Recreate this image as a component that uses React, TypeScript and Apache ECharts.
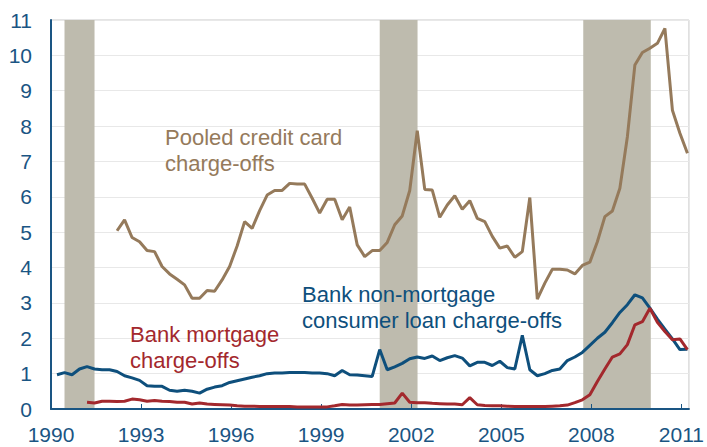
import React, { useEffect, useRef } from "react";
import * as echarts from "echarts";

// Quarterly series; index 0 = first quarter of 1990 (plotted at 1990.2)
const BASE_YEAR = 1990;
const FIRST_POINT = 0.2;
const STEP = 0.25;

const xTickYears = [1990, 1993, 1996, 1999, 2002, 2005, 2008, 2011];
const yTicks = [0, 1, 2, 3, 4, 5, 6, 7, 8, 9, 10, 11];

const nonMortgageStart = 0;
const nonMortgage = [
  0.97, 1.03, 0.97, 1.13, 1.2, 1.13, 1.11, 1.11, 1.06, 0.94,
  0.88, 0.81, 0.66, 0.64, 0.64, 0.53, 0.5, 0.53, 0.5, 0.45,
  0.56, 0.62, 0.66, 0.75, 0.8, 0.85, 0.9, 0.94, 1.0, 1.02,
  1.02, 1.03, 1.03, 1.03, 1.02, 1.02, 1.0, 0.94, 1.09, 0.97,
  0.96, 0.94, 0.92, 1.68, 1.11, 1.19, 1.29, 1.42, 1.47, 1.43,
  1.5, 1.37, 1.45, 1.51, 1.44, 1.22, 1.32, 1.32, 1.23, 1.35,
  1.17, 1.13, 2.08, 1.11, 0.94, 1.0, 1.09, 1.13, 1.37, 1.47,
  1.6, 1.8, 2.0, 2.17, 2.44, 2.73, 2.95, 3.23, 3.14, 2.85,
  2.54, 2.26, 1.98, 1.68, 1.69,
];

const mortgageStart = 4;
const mortgage = [
  0.19, 0.17, 0.22, 0.22, 0.21, 0.22, 0.28, 0.26, 0.22, 0.24,
  0.22, 0.21, 0.19, 0.19, 0.14, 0.17, 0.14, 0.13, 0.12, 0.11,
  0.09, 0.08, 0.08, 0.07, 0.07, 0.07, 0.07, 0.07, 0.06, 0.06,
  0.06, 0.06, 0.06, 0.09, 0.13, 0.11, 0.11, 0.12, 0.13, 0.13,
  0.15, 0.17, 0.45, 0.19, 0.18, 0.18, 0.16, 0.15, 0.14, 0.14,
  0.12, 0.32, 0.12, 0.1, 0.09, 0.09, 0.08, 0.07, 0.07, 0.07,
  0.07, 0.07, 0.08, 0.09, 0.11, 0.18, 0.26, 0.4, 0.78, 1.13,
  1.47, 1.56, 1.82, 2.38, 2.47, 2.85, 2.45, 2.19, 1.96, 1.98,
  1.68,
];

const creditCardStart = 8;
const creditCard = [
  5.04, 5.35, 4.85, 4.73, 4.48, 4.45, 4.03, 3.82, 3.67, 3.51,
  3.13, 3.13, 3.35, 3.33, 3.65, 4.03, 4.61, 5.3, 5.11, 5.61,
  6.05, 6.18, 6.18, 6.38, 6.36, 6.36, 5.96, 5.54, 5.93, 5.93,
  5.35, 5.71, 4.64, 4.31, 4.48, 4.48, 4.71, 5.21, 5.46, 6.18,
  7.87, 6.21, 6.19, 5.42, 5.77, 6.03, 5.65, 5.89, 5.39, 5.3,
  4.88, 4.55, 4.61, 4.29, 4.45, 5.98, 3.11, 3.56, 3.95, 3.95,
  3.93, 3.82, 4.06, 4.15, 4.73, 5.44, 5.6, 6.24, 7.7, 9.73,
  10.08, 10.2, 10.34, 10.76, 8.45, 7.8, 7.23,
];

// recession shading (years)
const recessionStart = [1990.45, 2000.95, 2007.73];
const recessionEnd = [1991.45, 2002.21, 2009.98];

const X_MAX_YEAR = 2011.25;

const BROWN = "#957A5B";
const BLUE = "#0E4F7C";
const RED = "#A3282D";
const BAND = "#BEBBAE";
const AXIS = "#1A5583";
const FONT = "'Liberation Sans', Arial, sans-serif";

function toPairs(values: number[], start: number) {
  return values.map((v, k) => [FIRST_POINT + STEP * (start + k), v]);
}

export default function App() {
  const ref = useRef<HTMLDivElement>(null);

  useEffect(() => {
    if (!ref.current) return;
    const chart = echarts.init(ref.current, undefined, { renderer: "svg" });
    const tickVals = xTickYears.map((y) => y - BASE_YEAR);

    const text = (t: string, x: number, y: number, color: string) => ({
      type: "text",
      x,
      y,
      silent: true,
      z: 10,
      style: {
        text: t,
        fill: color,
        font: `22px ${FONT}`,
        align: "left",
        verticalAlign: "middle",
      },
    });

    chart.setOption({
      animation: false,
      grid: {
        left: 51,
        right: 15,
        top: 20,
        bottom: 38,
        show: true,
        borderColor: "#C9C9C9",
        borderWidth: 1,
        backgroundColor: "transparent",
      },
      xAxis: {
        type: "value",
        min: 0,
        max: X_MAX_YEAR - BASE_YEAR,
        interval: 3,
        z: 3,
        axisLine: { show: true, lineStyle: { color: AXIS, width: 2 } },
        axisTick: {
          show: true,
          inside: true,
          length: 5,
          customValues: tickVals,
          lineStyle: { color: AXIS, width: 1 },
        },
        axisLabel: {
          customValues: tickVals,
          formatter: (v: number) =>
            Math.abs(v - Math.round(v / 3) * 3) < 1e-6 ? String(BASE_YEAR + Math.round(v)) : "",
          color: AXIS,
          fontSize: 21,
          fontFamily: FONT,
          margin: 15,
        },
        splitLine: { show: false },
      },
      yAxis: {
        type: "value",
        min: yTicks[0],
        max: yTicks[yTicks.length - 1],
        interval: 1,
        axisLine: { show: true, lineStyle: { color: AXIS, width: 2 } },
        axisTick: { show: false },
        axisLabel: {
          color: AXIS,
          fontSize: 21,
          fontFamily: FONT,
          margin: 19,
        },
        splitLine: { show: true, lineStyle: { color: "#E8E8E8", width: 1 } },
      },
      series: [
        {
          type: "line",
          data: [],
          silent: true,
          markArea: {
            silent: true,
            itemStyle: { color: BAND },
            label: { show: false },
            data: recessionStart.map((s, k) => [
              { xAxis: s - BASE_YEAR },
              { xAxis: recessionEnd[k] - BASE_YEAR },
            ]),
          },
        },
        {
          name: "Pooled credit card charge-offs",
          type: "line",
          data: toPairs(creditCard, creditCardStart),
          symbol: "none",
          lineStyle: { color: BROWN, width: 3 },
          z: 4,
        },
        {
          name: "Bank non-mortgage consumer loan charge-offs",
          type: "line",
          data: toPairs(nonMortgage, nonMortgageStart),
          symbol: "none",
          lineStyle: { color: BLUE, width: 3 },
          z: 4,
        },
        {
          name: "Bank mortgage charge-offs",
          type: "line",
          data: toPairs(mortgage, mortgageStart),
          symbol: "none",
          lineStyle: { color: RED, width: 3 },
          z: 5,
        },
      ],
      graphic: [
        text("Pooled credit card", 165, 137, BROWN),
        text("charge-offs", 165, 163, BROWN),
        text("Bank mortgage", 130, 334, RED),
        text("charge-offs", 130, 360, RED),
        text("Bank non-mortgage", 302, 294, BLUE),
        text("consumer loan charge-offs", 302, 320, BLUE),
      ],
    });
    return () => chart.dispose();
  }, []);

  return (
    <div
      ref={ref}
      style={{ position: "fixed", left: 0, top: 0, width: 707, height: 447, background: "#fff" }}
    />
  );
}
